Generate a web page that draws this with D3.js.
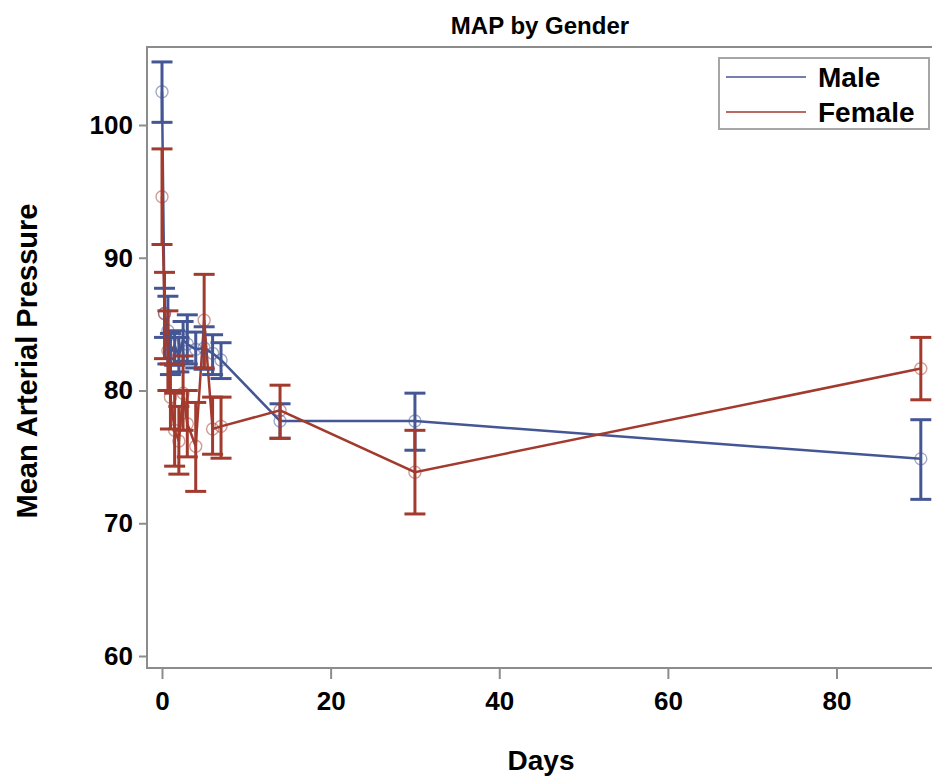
<!DOCTYPE html>
<html>
<head>
<meta charset="utf-8">
<script src="https://cdn.jsdelivr.net/npm/d3@7"></script>
<style>
  body { margin: 0; background: #fff; }
  svg { display: block; font-family: "Liberation Sans", Arial, sans-serif; }
</style>
</head>
<body>
<div id="chart"></div>
<script>
// days of measurement, shared by both groups
const days = [0, 0.3, 0.7, 1, 1.5, 2, 2.5, 3, 4, 5, 6, 7, 14, 30, 90];

const maleMean = [102.5, 85.8, 84.5, 82.8, 83.4, 82.6, 83.8, 83.5, 83.1, 83.2, 82.8, 82.3, 77.7, 77.7, 74.85];
const maleLow = [100.2, 84.0, 82.0, 81.2, 81.9, 81.4, 82.2, 82.0, 81.7, 81.6, 81.2, 80.9, 76.4, 75.5, 71.8];
const maleHigh = [104.75, 87.7, 87.1, 84.3, 84.5, 84.0, 85.2, 85.7, 84.4, 84.8, 84.2, 83.6, 79.0, 79.8, 77.8];

const femaleMean = [94.6, 85.8, 83.0, 79.5, 77.0, 76.2, 79.8, 77.5, 75.8, 85.3, 77.1, 77.3, 78.5, 73.85, 81.65];
const femaleLow = [91.0, 82.4, 80.0, 77.1, 74.3, 73.7, 77.0, 75.0, 72.4, 81.7, 75.2, 74.9, 76.4, 70.7, 79.3];
const femaleHigh = [98.2, 88.9, 86.0, 82.0, 79.8, 78.8, 82.6, 80.0, 79.1, 88.75, 79.5, 79.5, 80.4, 77.0, 84.0];

const xTicks = [0, 20, 40, 60, 80];
const yTicks = [60, 70, 80, 90, 100];

const groups = [
  { name: "Male", color: "#445694", mean: maleMean, low: maleLow, high: maleHigh },
  { name: "Female", color: "#A23A2E", mean: femaleMean, low: femaleLow, high: femaleHigh },
];

const width = 932;
const height = 778;
const frame = { left: 147, top: 47, right: 936, bottom: 668 };

const svg = d3
  .select("#chart")
  .append("svg")
  .attr("width", width)
  .attr("height", height);

const x = d3.scaleLinear().domain([0, 80]).range([162, 836.5]);
const y = d3.scaleLinear().domain([60, 100]).range([656, 125]);

// frame
svg
  .append("rect")
  .attr("x", frame.left)
  .attr("y", frame.top)
  .attr("width", frame.right - frame.left)
  .attr("height", frame.bottom - frame.top)
  .attr("fill", "none")
  .attr("stroke", "#8c8c8c")
  .attr("stroke-width", 2);

// axes
const xAxis = svg
  .append("g")
  .attr("transform", `translate(0, ${frame.bottom + 1})`)
  .call(d3.axisBottom(x).tickValues(xTicks).tickSize(10).tickPadding(13).tickSizeOuter(0));

const yAxis = svg
  .append("g")
  .attr("transform", `translate(${frame.left - 1}, 0)`)
  .call(d3.axisLeft(y).tickValues(yTicks).tickSize(7).tickPadding(6).tickSizeOuter(0));

[xAxis, yAxis].forEach((a) => {
  a.select(".domain").remove();
  a.selectAll(".tick line").attr("stroke", "#8c8c8c").attr("stroke-width", 2);
  a.selectAll(".tick text")
    .attr("fill", "#000")
    .style("font-size", "26px")
    .style("font-weight", "bold")
    .style("font-family", "'Liberation Sans', Arial, sans-serif");
});

// titles
svg
  .append("text")
  .attr("x", 540)
  .attr("y", 34)
  .attr("text-anchor", "middle")
  .style("font-size", "24px")
  .style("font-weight", "bold")
  .text("MAP by Gender");

svg
  .append("text")
  .attr("x", 541)
  .attr("y", 770)
  .attr("text-anchor", "middle")
  .style("font-size", "28px")
  .style("font-weight", "bold")
  .text("Days");

svg
  .append("text")
  .attr("transform", `translate(37, 361) rotate(-90)`)
  .attr("text-anchor", "middle")
  .style("font-size", "29px")
  .style("font-weight", "bold")
  .text("Mean Arterial Pressure");

const plot = svg.append("g");
const capHalf = 10.5;

const line = d3
  .line()
  .x((d) => x(d.day))
  .y((d) => y(d.mean));

const rows = (g) =>
  days.map((day, i) => ({ day, mean: g.mean[i], low: g.low[i], high: g.high[i] }));

// connecting lines
groups.forEach((g) => {
  plot
    .append("path")
    .datum(rows(g))
    .attr("d", line)
    .attr("fill", "none")
    .attr("stroke", g.color)
    .attr("stroke-width", 2.5);
});

// error bars with caps
groups.forEach((g) => {
  const bars = plot.append("g").attr("stroke", g.color).attr("stroke-width", 3);
  rows(g).forEach((d) => {
    bars.append("line")
      .attr("x1", x(d.day)).attr("x2", x(d.day))
      .attr("y1", y(d.low)).attr("y2", y(d.high));
    [d.low, d.high].forEach((v) => {
      bars.append("line")
        .attr("x1", x(d.day) - capHalf).attr("x2", x(d.day) + capHalf)
        .attr("y1", y(v)).attr("y2", y(v));
    });
  });
});

// markers
groups.forEach((g) => {
  plot
    .append("g")
    .selectAll("circle")
    .data(rows(g))
    .join("circle")
    .attr("cx", (d) => x(d.day))
    .attr("cy", (d) => y(d.mean))
    .attr("r", 6)
    .attr("fill", "none")
    .attr("stroke", g.color)
    .attr("stroke-opacity", 0.5)
    .attr("stroke-width", 1.4);
});

// legend
const legend = svg.append("g").attr("transform", "translate(719, 58)");
legend
  .append("rect")
  .attr("width", 210)
  .attr("height", 71)
  .attr("fill", "#fff")
  .attr("stroke", "#a6a6a6")
  .attr("stroke-width", 2);

groups.forEach((g, i) => {
  const row = legend.append("g").attr("transform", `translate(0, ${19 + i * 35})`);
  row.append("line")
    .attr("x1", 7).attr("x2", 87)
    .attr("stroke", g.color)
    .attr("stroke-width", 1.5);
  row.append("text")
    .attr("x", 99)
    .attr("y", 10)
    .style("font-size", "28px")
    .style("font-weight", "bold")
    .text(g.name);
});
</script>
</body>
</html>
